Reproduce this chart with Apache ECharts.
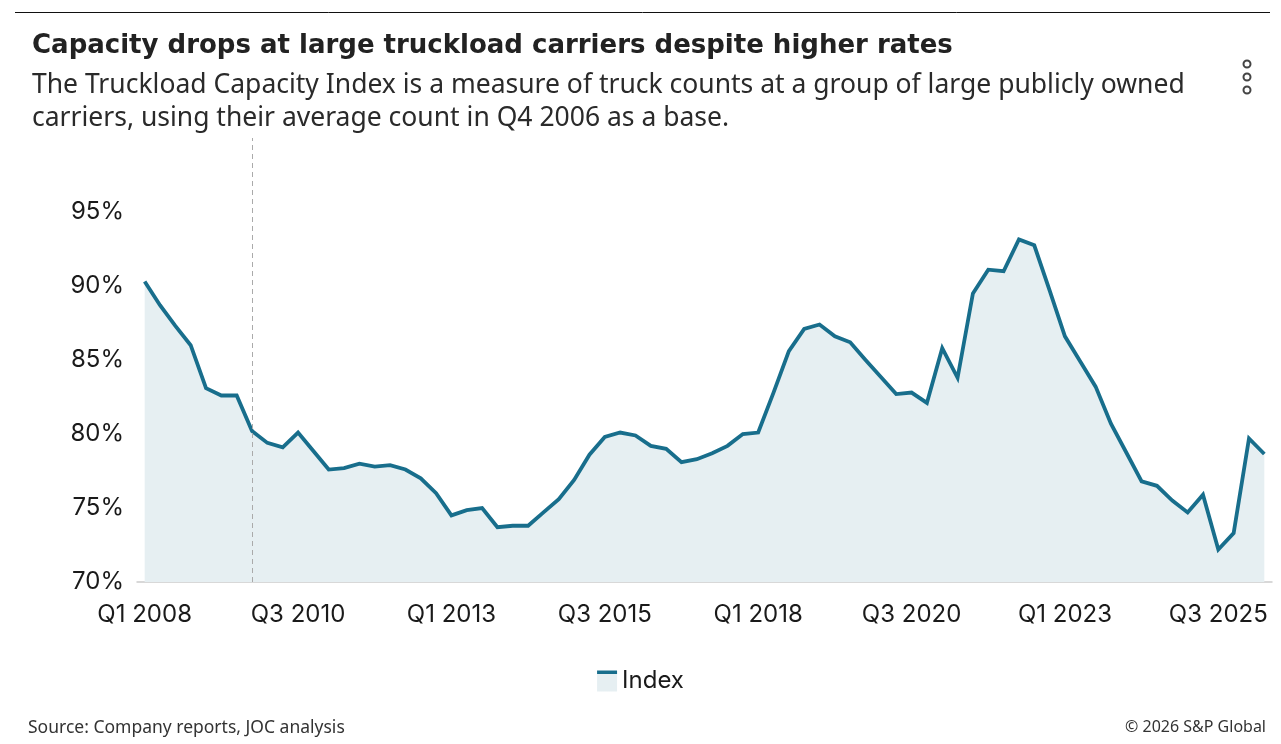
<!DOCTYPE html>
<html lang="en">
<head>
  <meta charset="UTF-8">
  <title>Truckload Capacity Index</title>
  <style>
    html, body { margin: 0; padding: 0; background: #fff; }
    #chart { width: 1281px; height: 744px; }
  </style>
</head>
<body>
  <div id="chart"></div>
  <script src="https://cdn.jsdelivr.net/npm/echarts@6/dist/echarts.min.js"></script>
  <script>
    // quarterly categories, Q1 2008 .. Q2 2026
    var quarters = [
      'Q1 2008', 'Q2 2008', 'Q3 2008', 'Q4 2008', 'Q1 2009', 'Q2 2009', 'Q3 2009', 'Q4 2009',
      'Q1 2010', 'Q2 2010', 'Q3 2010', 'Q4 2010', 'Q1 2011', 'Q2 2011', 'Q3 2011', 'Q4 2011',
      'Q1 2012', 'Q2 2012', 'Q3 2012', 'Q4 2012', 'Q1 2013', 'Q2 2013', 'Q3 2013', 'Q4 2013',
      'Q1 2014', 'Q2 2014', 'Q3 2014', 'Q4 2014', 'Q1 2015', 'Q2 2015', 'Q3 2015', 'Q4 2015',
      'Q1 2016', 'Q2 2016', 'Q3 2016', 'Q4 2016', 'Q1 2017', 'Q2 2017', 'Q3 2017', 'Q4 2017',
      'Q1 2018', 'Q2 2018', 'Q3 2018', 'Q4 2018', 'Q1 2019', 'Q2 2019', 'Q3 2019', 'Q4 2019',
      'Q1 2020', 'Q2 2020', 'Q3 2020', 'Q4 2020', 'Q1 2021', 'Q2 2021', 'Q3 2021', 'Q4 2021',
      'Q1 2022', 'Q2 2022', 'Q3 2022', 'Q4 2022', 'Q1 2023', 'Q2 2023', 'Q3 2023', 'Q4 2023',
      'Q1 2024', 'Q2 2024', 'Q3 2024', 'Q4 2024', 'Q1 2025', 'Q2 2025', 'Q3 2025', 'Q4 2025',
      'Q1 2026', 'Q2 2026'
    ];

    // index, % of Q4 2006 average truck count
    var indexValues = [
      90.3, 88.7, 87.3, 86.0, 83.1, 82.6, 82.6, 80.2,
      79.4, 79.1, 80.1, 78.85, 77.6, 77.7, 78.0, 77.8,
      77.9, 77.6, 77.0, 76.0, 74.5, 74.85, 75.0, 73.7,
      73.8, 73.8, 74.7, 75.6, 76.9, 78.6, 79.8, 80.1,
      79.9, 79.2, 79.0, 78.1, 78.3, 78.7, 79.2, 80.0,
      80.1, 82.8, 85.6, 87.1, 87.4, 86.6, 86.2, 85.0,
      83.85, 82.7, 82.8, 82.1, 85.8, 83.8, 89.5, 91.1,
      91.0, 93.15, 92.75, 89.7, 86.6, 84.9, 83.2, 80.7,
      78.75, 76.8, 76.5, 75.5, 74.7, 75.9, 72.2, 73.3,
      79.7, 78.65
    ];

    var yTicks = [70, 75, 80, 85, 90, 95];
    var breakQuarter = 'Q4 2009';

    var lineColor = '#186e8c';
    var fillColor = '#e6eff2';
    var textColor = '#1a1a1a';
    var axisFont = 'Inter';
    var headFont = 'Noto Sans';

    var chart = echarts.init(document.getElementById('chart'));

    var option = {
      animation: false,
      title: [
        {
          text: 'Capacity drops at large truckload carriers despite higher rates',
          left: 27,
          top: 28,
          textStyle: { fontFamily: 'DejaVu Sans', fontSize: 26, fontWeight: 'bold', color: '#222' }
        },
        {
          text: 'The Truckload Capacity Index is a measure of truck counts at a group of large publicly owned\ncarriers, using their average count in Q4 2006 as a base.',
          left: 27,
          top: 64,
          textStyle: { fontFamily: headFont, fontSize: 26.5, fontWeight: 'normal', lineHeight: 33, color: '#2a2a2a' }
        },
        {
          text: 'Source: Company reports, JOC analysis',
          left: 23,
          top: 714,
          textStyle: { fontFamily: headFont, fontSize: 17.5, fontWeight: 'normal', color: '#333' }
        },
        {
          text: '\u00a9 2026 S&P Global',
          right: 10,
          top: 714,
          textStyle: { fontFamily: headFont, fontSize: 16, fontWeight: 'normal', color: '#333' }
        }
      ],
      graphic: [
        { type: 'line', shape: { x1: 15, y1: 12.5, x2: 1270, y2: 12.5 }, style: { stroke: '#111', lineWidth: 1 } },
        { type: 'circle', shape: { cx: 1247, cy: 64, r: 3.5 }, style: { fill: 'none', stroke: '#444', lineWidth: 2 } },
        { type: 'circle', shape: { cx: 1247, cy: 77, r: 3.5 }, style: { fill: 'none', stroke: '#444', lineWidth: 2 } },
        { type: 'circle', shape: { cx: 1247, cy: 90, r: 3.5 }, style: { fill: 'none', stroke: '#444', lineWidth: 2 } }
      ],
      legend: {
        top: 664,
        left: 'center',
        icon: 'rect',
        itemWidth: 20,
        itemHeight: 21,
        textStyle: { fontFamily: axisFont, fontSize: 24, color: textColor },
        itemStyle: {
          color: {
            type: 'linear', x: 0, y: 0, x2: 0, y2: 1,
            colorStops: [
              { offset: 0, color: lineColor },
              { offset: 0.19, color: lineColor },
              { offset: 0.19, color: fillColor },
              { offset: 1, color: fillColor }
            ]
          },
          borderWidth: 0
        },
        data: ['Index']
      },
      grid: {
        left: 137,
        right: 9,
        top: 138,
        bottom: 162,
        containLabel: false
      },
      xAxis: {
        type: 'category',
        data: quarters,
        boundaryGap: true,
        axisLine: { lineStyle: { color: '#cccccc', width: 1.5 } },
        axisTick: { show: false },
        axisLabel: {
          interval: 9,
          fontFamily: axisFont,
          fontSize: 24,
          color: textColor,
          margin: 21
        },
        splitLine: { show: false }
      },
      yAxis: {
        type: 'value',
        min: 70,
        max: 100,
        interval: 5,
        axisLine: { show: false },
        axisTick: { show: false },
        splitLine: { show: false },
        axisLabel: {
          showMaxLabel: false,
          fontFamily: axisFont,
          fontSize: 24,
          color: textColor,
          margin: 13,
          formatter: function (v) {
            return yTicks.indexOf(v) >= 0 ? v + '%' : '';
          }
        }
      },
      series: [{
        name: 'Index',
        type: 'line',
        data: indexValues,
        symbol: 'none',
        lineStyle: { color: lineColor, width: 3.8, join: 'miter' },
        itemStyle: { color: lineColor },
        areaStyle: { color: fillColor, opacity: 1, origin: 'start' },
        markLine: {
          silent: true,
          symbol: 'none',
          label: { show: false },
          lineStyle: { color: '#aaaaaa', type: [5, 4], width: 1 },
          data: [{ xAxis: breakQuarter }]
        }
      }]
    };

    chart.setOption(option);
  </script>
</body>
</html>
